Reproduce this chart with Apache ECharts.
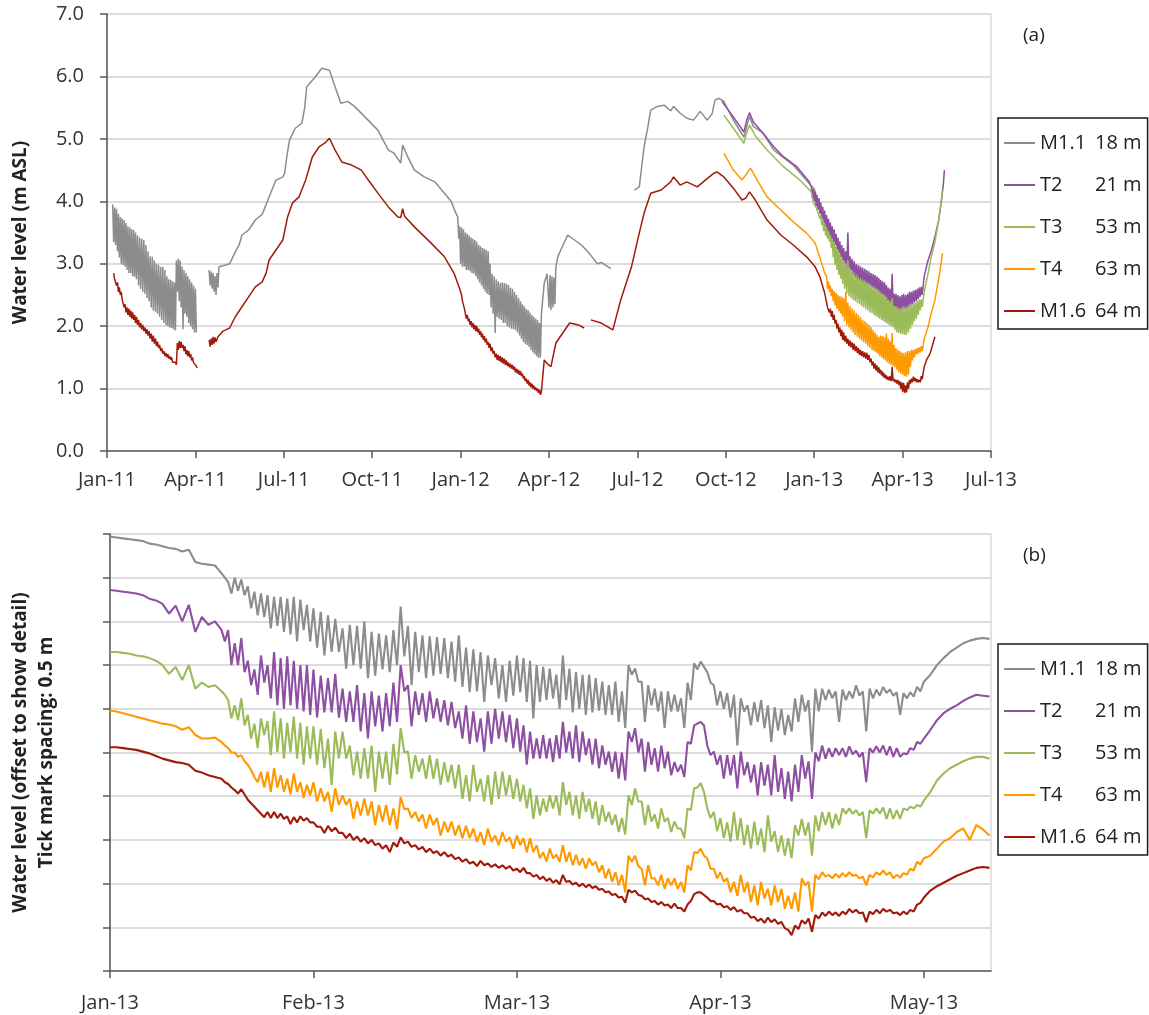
<!DOCTYPE html>
<html>
<head>
<meta charset="utf-8">
<script src="https://cdn.jsdelivr.net/npm/echarts@6/dist/echarts.min.js"></script>
<style>html,body{margin:0;padding:0;background:#fff}#c{width:1149px;height:1015px}</style>
</head>
<body>
<div id="c"></div>
<script>
// ---------------- data ----------------
const NAMES = ['M1.1', 'T2', 'T3', 'T4', 'M1.6'];
const DEPTHS = ['18 m', '21 m', '53 m', '63 m', '64 m'];
const TOP_TICKS = ['Jan-11','Apr-11','Jul-11','Oct-11','Jan-12','Apr-12','Jul-12','Oct-12','Jan-13','Apr-13','Jul-13'];
const BOTTOM_TICKS = ['Jan-13','Feb-13','Mar-13','Apr-13','May-13'];
const TOP_BASE_YEAR = 2011;     // day offsets of panel (a) count from 1 Jan 2011
const BOTTOM_BASE_YEAR = 2013;  // day offsets of panel (b) count from 1 Jan 2013
// element forms: [day, value] | null (gap) | [startDay, stepDays, [values...]]

// ---- panel (a): water level, m ASL ----
const M11_TOP = [
  [6, 1, [3.95,3.35,3.9,3.3,3.88,3.2,3.8,3.1,3.75,3.0,3.72,2.98,3.7,2.95,3.65,2.9,3.6,2.85,3.58,2.85,3.55,2.8,3.54,2.79,3.5,2.75,3.45,2.65,3.42,2.6,3.4,2.55,3.38,2.52,3.3,2.45,3.2,2.4,3.12,2.3,3.11,2.25,3.05,2.23,3.0,2.2,2.98,2.15,2.95,2.1,2.95,2.05,2.9,2.02,2.8,2.0,2.75,1.98,2.74,1.97,2.72,1.95,2.7,1.93]],
  [70, 1, [3.05,2.55,3.08,2.4,3.05,2.3,2.95,1.95,2.9,2.2,2.85,2.15,2.8,2.05,2.75,2.0,2.7,1.95,2.65,1.9,2.6,1.9]],
  null,
  [104, 1, [2.9,2.65,2.88,2.6,2.85,2.55,2.8,2.5,2.85,2.62]],
  [114,2.95],[121,2.98],[125,3.0],[131,3.19],[135,3.3],[138,3.46],[145,3.54],[152,3.7],[159,3.79],[166,4.07],[173,4.34],[180,4.39],[182,4.45],[184,4.7],[187,4.98],[193,5.17],[200,5.25],[203,5.5],[205,5.83],[214,5.99],[221,6.13],[229,6.1],[235,5.83],[241,5.57],[248,5.6],[255,5.52],[265,5.36],[279,5.14],[290,4.82],[296,4.77],[303,4.61],[305,4.9],[310,4.72],[317,4.5],[327,4.39],[338,4.31],[348,4.13],[355,4.0],[360,3.81],
  [362, 1, [3.75,3.4,3.6,3.0,3.58,2.95,3.55,2.95,3.5,2.9,3.48,2.9,3.45,2.88,3.42,2.85,3.4,2.84,3.38,2.8,3.35,2.75,3.3,2.7,3.28,2.65,3.25,2.6,3.24,2.55,3.22,2.52,3.2,2.5,3.0,2.3,2.84,2.2,2.8,1.89,2.75,2.15,2.72,2.12,2.69,2.1,2.7,2.05,2.69,2.05,2.68,2.0,2.66,1.98,2.62,1.96,2.6,1.95,2.55,1.94,2.5,1.9,2.45,1.85,2.4,1.8,2.35,1.75,2.32,1.72,2.28,1.7,2.26,1.67,2.22,1.62,2.18,1.58,2.15,1.55,2.12,1.52,2.1,1.49,2.05,1.5]],
  [448,2.2],[451,2.69],[454,2.84],
  [455, 1, [2.84,2.3,2.82,2.26,2.8,2.3,2.78,2.35]],
  [463,2.95],[465,3.11],[468,3.22],[475,3.46],[482,3.38],[489,3.3],[496,3.19],[506,3.0],[510,3.02],[520,2.92],
  null,
  [544,4.18],[549,4.23],[554,4.87],[558,5.19],[561,5.46],[568,5.52],[575,5.54],[582,5.45],[585,5.52],[592,5.41],[599,5.33],[606,5.3],[613,5.44],[620,5.3],[625,5.4],[628,5.62],[632,5.65],[637,5.6],[647,5.3],[658,5.03],[664,5.36],[668,5.2],[678,5.09],[689,4.82],[709,4.58],[727,4.26],
  [731,4.2],[740,3.75],[750,3.35],[760,3.0],[775,2.75],[790,2.55],[805,2.4],[820,2.2],[835,2.3],[840,2.4]
];
const T2_TOP = [
  [635,5.6],[647,5.35],[658,5.11],[661,5.3],[664,5.42],[668,5.27],[678,5.09],[689,4.87],[699,4.71],[713,4.55],[726,4.31],
  [728, 1, [4.23,4.05,4.2,4.0,4.15,3.92,4.1,3.86,4.05,3.8,3.98,3.73,3.91,3.66,3.85,3.6,3.78,3.53,3.72,3.47,3.66,3.41,3.6,3.35,3.55,3.3,3.48,3.23,3.42,3.17,3.36,3.11,3.3,3.05,3.25,3.0,3.2,2.95,3.5,2.92,3.12,2.88,3.08,2.84,3.04,2.8,3.0,2.76,2.98,2.74,2.96,2.72,2.94,2.7,2.92,2.68,2.9,2.66,2.88,2.64,2.85,2.61,2.84,2.6,2.82,2.58,2.8,2.56,2.77,2.53,2.74,2.5,2.72,2.48,2.7,2.46,2.66,2.42,2.62,2.38,2.6,2.36,2.84,2.32,2.52,2.3,2.52,2.28,2.5,2.26,2.48,2.25,2.5,2.26,2.52,2.28,2.5,2.27,2.52,2.3,2.55,2.33,2.55,2.35,2.57,2.38,2.58,2.4,2.6,2.43,2.62,2.47,2.63,2.5]],
  [843,2.8],[847,3.06],[850,3.2],[854,3.43],[858,3.7],[861,4.02],[863,4.3],[864,4.5]
];
const T3_TOP = [
  [637,5.38],[647,5.17],[658,4.93],[661,5.1],[664,5.22],[670,5.05],[682,4.82],[699,4.55],[716,4.34],[728,4.15],
  [730, 1, [4.0,3.95,3.95,3.9,3.9,3.82,3.85,3.72,3.78,3.62,3.71,3.52,3.65,3.45,3.58,3.4,3.52,3.35,3.46,3.25,3.4,3.1,3.35,2.98,3.28,2.9,3.22,2.82,3.16,2.76,3.1,2.68,3.05,2.6,3.0,2.52,3.05,2.48,2.92,2.45,2.88,2.42,2.84,2.4,2.8,2.37,2.78,2.35,2.76,2.32,2.74,2.3,2.72,2.27,2.7,2.25,2.68,2.22,2.65,2.21,2.64,2.18,2.62,2.16,2.6,2.14,2.57,2.12,2.54,2.1,2.52,2.08,2.5,2.06,2.46,2.04,2.42,2.02,2.4,2.0,2.45,1.98,2.32,1.94,2.32,1.9,2.3,1.89,2.28,1.88,2.3,1.87,2.32,1.86,2.3,1.86,2.32,1.9,2.35,1.96,2.35,2.02,2.37,2.08,2.38,2.12,2.4,2.18,2.42,2.25,2.43,2.31]],
  [843,2.55],[847,2.85],[850,3.1],[854,3.35],[858,3.7],[862,4.18]
];
const T4_TOP = [
  [637,4.77],[647,4.5],[656,4.34],[660,4.42],[665,4.53],[673,4.31],[682,4.07],[696,3.86],[709,3.67],[723,3.49],[732,3.33],[739,3.0],[742,2.85],
  [744, 1, [2.8,2.6,2.72,2.55,2.65,2.48,2.6,2.4,2.56,2.33,2.53,2.28,2.5,2.24,2.48,2.2,2.47,2.15,2.45,2.08,2.55,2.02,2.38,1.98,2.32,1.94,2.28,1.9,2.25,1.86,2.21,1.83,2.18,1.8,2.14,1.77,2.1,1.74,2.08,1.72,2.05,1.68,2.02,1.65,1.98,1.62,1.94,1.6,1.9,1.58,1.86,1.56,1.83,1.52,1.85,1.5,1.84,1.47,1.82,1.45,1.88,1.42,1.8,1.4,1.76,1.38,1.89,1.36,1.7,1.34,1.65,1.3,1.62,1.26,1.6,1.24,1.58,1.22,1.57,1.2,1.58,1.19,1.6,1.22,1.6,1.35,1.62,1.45,1.62,1.5,1.63,1.55,1.65,1.56,1.66,1.58,1.68,1.6]],
  [843,1.8],[847,1.99],[850,2.2],[854,2.42],[859,2.85],[862,3.17]
];
const M16_TOP = [
  [7, 1, [2.85,2.75,2.75,2.65,2.7,2.55,2.62,2.5,2.55,2.42,2.45,2.3,2.35,2.22,2.3,2.18,2.28,2.15,2.25,2.12,2.22,2.1,2.18,2.05,2.15,2.02,2.1,1.98,2.05,1.95,2.02,1.92,1.98,1.88,1.95,1.85,1.92,1.8,1.88,1.75,1.85,1.72,1.8,1.68,1.75,1.65,1.7,1.6,1.65,1.56,1.6,1.52,1.57,1.5,1.55,1.48,1.52,1.46,1.5,1.42,1.45,1.4,1.42,1.38]],
  [71, 1, [1.73,1.62,1.76,1.65,1.75,1.65,1.7,1.6,1.68,1.55,1.62,1.52,1.6,1.5,1.55,1.45,1.5,1.42,1.45,1.38,1.4,1.33]],
  null,
  [104, 1, [1.78,1.67,1.8,1.7,1.83,1.72,1.82,1.75]],
  [113,1.83],[118,1.92],[121,1.94],[125,1.97],[131,2.15],[138,2.31],[145,2.47],[152,2.63],[159,2.71],[163,2.85],[166,3.06],[173,3.22],[180,3.38],[185,3.75],[190,3.97],[197,4.07],[204,4.34],[211,4.71],[218,4.87],[224,4.93],[229,5.01],[235,4.82],[242,4.63],[252,4.58],[262,4.5],[269,4.34],[279,4.13],[290,3.91],[300,3.75],[303,3.74],[305,3.88],[307,3.76],[317,3.59],[334,3.33],[348,3.11],[358,2.85],[364,2.6],
  [366, 1, [2.5,2.4,2.4,2.28,2.25,2.12,2.18,2.08,2.12,2.02,2.08,1.98,2.05,1.95,2.02,1.92,2.0,1.9,1.96,1.86,1.92,1.82,1.88,1.78,1.84,1.74,1.8,1.7,1.75,1.65,1.72,1.6,1.66,1.56,1.6,1.5,1.56,1.46,1.54,1.44,1.52,1.42,1.5,1.4,1.48,1.38,1.45,1.36,1.42,1.34,1.4,1.32,1.38,1.3,1.35,1.26,1.32,1.24,1.3,1.22,1.28,1.2,1.24,1.16,1.2,1.12,1.16,1.08,1.14,1.05,1.1,1.02,1.08,1.0,1.05,0.98,1.02,0.96,1.0,0.93,0.98,0.9]],
  [448,0.95],[451,1.46],[454,1.4],[458,1.35],[463,1.73],[470,1.89],[477,2.05],[486,2.02],[492,1.97],
  null,
  [499,2.1],[510,2.05],[522,1.94],[530,2.42],[541,2.95],[548,3.43],[554,3.81],[561,4.13],[572,4.18],[582,4.31],[585,4.39],[592,4.26],[599,4.31],[610,4.23],[616,4.31],[627,4.45],[630,4.47],[637,4.39],[647,4.21],[656,4.02],[660,4.05],[664,4.15],[670,4.02],[682,3.7],[696,3.46],[709,3.3],[723,3.11],[732,2.95],[737,2.79],[742,2.53],
  [744, 1, [2.38,2.3,2.33,2.22,2.28,2.15,2.24,2.1,2.18,2.04,2.1,1.96,2.04,1.9,1.98,1.84,1.94,1.78,1.9,1.75,1.85,1.72,1.8,1.68,1.77,1.66,1.74,1.62,1.72,1.6,1.68,1.57,1.65,1.54,1.62,1.52,1.6,1.5,1.58,1.48,1.57,1.46,1.54,1.42,1.48,1.37,1.43,1.32,1.4,1.29,1.37,1.26,1.34,1.24,1.3,1.21,1.27,1.18,1.24,1.16,1.21,1.14,1.19,1.13,1.2,1.12,1.35,1.12,1.16,1.1,1.14,1.08,1.14,1.06,1.12,1.0,1.1,0.95,1.09,0.93,1.05,0.94,1.1,1.0,1.14,1.08,1.16,1.1,1.19,1.12,1.17,1.1,1.15,1.1,1.14,1.1,1.2,1.15]],
  [843,1.35],[846,1.48],[849,1.56],[854,1.83]
];

// ---- panel (b): offset water levels, 0.5 m per tick ----
const M11_BOT = [
  [0, 1, [4.97,4.96,4.95,4.94,4.93,4.92,4.89,4.88,4.86,4.84,4.83,4.8,4.82,4.68,4.66,4.65,4.64]],
  [17, 0.5, [
    4.55,4.5, 4.45,4.32, 4.5,4.35, 4.48,4.3, 4.4,4.15,
    4.34,4.07, 4.32,4.05, 4.3,3.92, 4.28,3.95, 4.28,3.88,
    4.26,3.85, 4.28,3.77, 4.25,3.9, 4.19,3.77, 4.15,3.7,
    4.11,3.61, 4.07,3.65, 4.03,3.65, 3.92,3.46, 3.96,3.5,
    3.95,3.46, 4.0,3.35, 3.88,3.38, 3.86,3.45, 3.84,3.42,
    3.9,3.5, 4.17,3.6, 3.95,3.27, 3.88,3.42, 3.84,3.35,
    3.83,3.38, 3.82,3.4, 3.81,3.35, 3.77,3.31, 3.84,3.25,
    3.7,3.19, 3.68,3.2, 3.65,3.08, 3.61,3.27, 3.58,3.12,
    3.5,3.08, 3.55,3.15, 3.61,3.19, 3.58,3.08, 3.55,2.89,
    3.5,3.08, 3.48,3.1, 3.46,3.12, 3.39,3.0, 3.61,3.1,
    3.46,2.96, 3.42,3.0, 3.39,2.93, 3.39,2.96, 3.35,2.98,
    3.31,2.93, 3.27,2.93, 3.31,2.85, 3.2,2.78, 3.5,3.39,
    3.46,3.31, 3.31,2.85, 3.27,3.04, 3.23,2.97, 3.2,2.78,
    3.2,2.97, 3.16,2.97, 3.12,2.78, 3.3,3.1, 3.52,3.45,
    3.54,3.48, 3.42,3.3, 3.27,3.04, 3.2,3.0, 3.18,2.9,
    3.16,2.58, 3.12,2.97, 3.04,2.81, 3.08,2.85, 3.1,2.78,
    3.04,2.62, 3.02,2.75, 3.0,2.7, 2.93,2.74, 3.12,2.85,
    3.16,2.97, 3.1,2.51, 3.23,2.97, 3.23,3.1, 3.22,3.12,
    3.2,2.85, 3.22,3.1, 3.2,3.12, 3.27,3.15, 3.2,2.74,
    3.23,3.12, 3.22,3.15, 3.25,3.18, 3.22,3.15, 3.19,2.93,
    3.18,3.12, 3.19,3.14, 3.25,3.2]],
  [120, 1, [3.31,3.39,3.5,3.58,3.65,3.7,3.75,3.78,3.8,3.81,3.8]]
];
const T2_BOT = [
  [0, 1, [4.36,4.35,4.34,4.33,4.32,4.3,4.26,4.24,4.2,4.09,4.18,4.0,4.19,3.88,4.05,3.96,4.0]],
  [17, 0.5, [
    3.9,3.77, 3.9,3.5, 3.75,3.5, 3.81,3.42, 3.55,3.27,
    3.45,3.16, 3.61,3.3, 3.5,3.12, 3.65,3.04, 3.58,3.0,
    3.6,3.04, 3.55,3.0, 3.5,2.97, 3.5,2.93, 3.45,2.9,
    3.38,2.96, 3.35,2.96, 3.4,2.9, 3.23,2.85, 3.2,2.85,
    3.27,2.74, 3.18,2.66, 3.2,2.8, 3.15,2.74, 3.18,2.8,
    3.3,2.85, 3.5,3.2, 3.27,2.8, 3.2,2.93, 3.18,2.85,
    3.2,2.89, 3.12,2.85, 3.1,2.81, 3.08,2.78, 2.97,2.66,
    3.04,2.6, 2.97,2.62, 2.89,2.51, 2.97,2.6, 3.0,2.66,
    2.97,2.62, 2.93,2.55, 2.89,2.51, 2.81,2.36, 2.74,2.43,
    2.66,2.43, 2.7,2.43, 2.66,2.39, 2.7,2.43, 2.85,2.5,
    2.74,2.43, 2.81,2.39, 2.74,2.47, 2.66,2.36, 2.66,2.32,
    2.58,2.36, 2.51,2.28, 2.51,2.2, 2.5,2.18, 2.74,2.62,
    2.78,2.5, 2.66,2.28, 2.62,2.36, 2.55,2.28, 2.58,2.32,
    2.51,2.24, 2.39,2.28, 2.36,2.22, 2.62,2.6, 2.81,2.83,
    2.85,2.81, 2.58,2.47, 2.51,2.36, 2.47,2.2, 2.47,2.24,
    2.47,2.09, 2.51,2.24, 2.39,2.16, 2.36,2.01, 2.39,2.12,
    2.36,2.01, 2.47,2.05, 2.32,1.97, 2.28,1.94, 2.36,2.05,
    2.47,2.2, 2.4,1.97, 2.5,2.4, 2.58,2.43, 2.55,2.45,
    2.55,2.47, 2.55,2.45, 2.57,2.48, 2.52,2.45, 2.5,2.16,
    2.55,2.5, 2.57,2.5, 2.58,2.47, 2.57,2.45, 2.55,2.45,
    2.49,2.48, 2.55,2.53, 2.62,2.6]],
  [120, 1, [2.66,2.76,2.87,2.95,3.0,3.04,3.09,3.13,3.16,3.15,3.14]]
];
const T3_BOT = [
  [0, 1, [3.65,3.65,3.64,3.63,3.61,3.6,3.58,3.55,3.5,3.4,3.48,3.33,3.5,3.23,3.3,3.25,3.27]],
  [17, 0.5, [
    3.2,3.16, 3.1,2.89, 3.04,2.87, 3.12,2.81, 2.93,2.66,
    2.83,2.55, 2.89,2.7, 2.86,2.47, 2.97,2.5, 2.89,2.43,
    2.84,2.5, 2.91,2.43, 2.84,2.36, 2.8,2.43, 2.8,2.36,
    2.77,2.32, 2.66,2.13, 2.74,2.43, 2.74,2.43, 2.58,2.24,
    2.51,2.2, 2.55,2.2, 2.58,2.05, 2.51,2.2, 2.51,2.13,
    2.6,2.25, 2.78,2.5, 2.51,2.2, 2.47,2.28, 2.43,2.2,
    2.47,2.2, 2.43,2.13, 2.39,2.16, 2.36,2.09, 2.36,1.97,
    2.24,1.94, 2.36,2.05, 2.2,1.94, 2.24,1.9, 2.28,1.97,
    2.28,2.01, 2.24,1.97, 2.2,1.94, 2.13,1.86, 2.09,1.74,
    2.01,1.78, 1.97,1.82, 2.01,1.86, 2.01,1.78, 2.16,1.9,
    2.05,1.78, 2.01,1.74, 2.05,1.82, 1.97,1.74, 1.94,1.67,
    1.9,1.71, 1.82,1.67, 1.79,1.59, 1.75,1.56, 2.01,1.9,
    2.09,1.94, 1.94,1.67, 1.9,1.71, 1.79,1.63, 1.86,1.71,
    1.75,1.59, 1.71,1.63, 1.63,1.52, 1.86,1.84, 2.09,2.1,
    2.15,2.05, 1.86,1.75, 1.82,1.6, 1.75,1.52, 1.7,1.48,
    1.82,1.5, 1.75,1.44, 1.67,1.4, 1.71,1.44, 1.63,1.36,
    1.78,1.48, 1.6,1.36, 1.55,1.32, 1.52,1.29, 1.67,1.55,
    1.74,1.55, 1.7,1.32, 1.78,1.6, 1.82,1.67, 1.82,1.63,
    1.8,1.67, 1.86,1.8, 1.86,1.8, 1.84,1.78, 1.82,1.52,
    1.84,1.8, 1.86,1.8, 1.87,1.74, 1.86,1.74, 1.84,1.74,
    1.86,1.84, 1.88,1.86, 1.9,1.88]],
  [120, 1, [1.95,2.05,2.18,2.26,2.32,2.36,2.4,2.43,2.45,2.45,2.43]]
];
const T4_BOT = [
  [0, 1, [2.98,2.97,2.95,2.93,2.91,2.89,2.87,2.85,2.83,2.82,2.8,2.76,2.79,2.7,2.66,2.66,2.67]],
  [17, 0.5, [
    2.62,2.58, 2.55,2.5, 2.5,2.45, 2.47,2.4, 2.36,2.3,
    2.22,2.16, 2.28,2.1, 2.28,2.05, 2.32,2.1, 2.24,2.05,
    2.2,2.02, 2.26,2.05, 2.16,1.98, 2.13,2.01, 2.16,1.94,
    2.09,1.94, 2.05,1.82, 2.09,1.9, 2.01,1.9, 1.97,1.74,
    1.94,1.78, 1.97,1.78, 1.94,1.67, 1.9,1.71, 1.9,1.67,
    1.86,1.62, 1.99,1.85, 1.86,1.75, 1.82,1.71, 1.79,1.63,
    1.79,1.67, 1.75,1.55, 1.71,1.59, 1.71,1.55, 1.67,1.52,
    1.66,1.52, 1.63,1.48, 1.59,1.44, 1.63,1.48, 1.55,1.44,
    1.59,1.48, 1.53,1.4, 1.55,1.44, 1.52,1.36, 1.52,1.36,
    1.44,1.29, 1.36,1.25, 1.4,1.29, 1.33,1.25, 1.44,1.25,
    1.36,1.21, 1.33,1.21, 1.29,1.17, 1.29,1.21, 1.25,1.13,
    1.21,1.06, 1.17,1.02, 1.13,0.98, 1.1,0.9, 1.32,1.25,
    1.32,1.2, 1.17,0.98, 1.21,1.06, 1.06,0.98, 1.1,0.94,
    1.06,0.98, 1.06,0.94, 1.02,0.9, 1.21,1.15, 1.36,1.35,
    1.4,1.32, 1.29,1.17, 1.17,1.06, 1.13,1.02, 1.06,0.9,
    1.02,0.86, 1.1,0.9, 1.02,0.79, 0.98,0.75, 1.02,0.83,
    0.94,0.75, 0.98,0.79, 0.94,0.71, 0.86,0.71, 0.9,0.68,
    1.06,0.98, 1.02,0.68, 1.1,1.05, 1.13,1.08, 1.1,1.06,
    1.11,1.07, 1.12,1.08, 1.13,1.09, 1.1,1.06, 1.08,0.98,
    1.1,1.07, 1.13,1.1, 1.15,1.1, 1.13,1.06, 1.1,1.07,
    1.12,1.1, 1.17,1.15, 1.25,1.22]],
  [120, 1, [1.29,1.32,1.4,1.48,1.52,1.59,1.63,1.5,1.67,1.62,1.55]]
];
const M16_BOT = [
  [0, 1, [2.56,2.56,2.55,2.54,2.53,2.51,2.49,2.46,2.43,2.41,2.39,2.38,2.36,2.29,2.27,2.24,2.22]],
  [17, 0.5, [
    2.2,2.16, 2.14,2.1, 2.07,2.03, 2.08,2.02, 1.96,1.92,
    1.88,1.84, 1.8,1.76, 1.82,1.75, 1.82,1.75, 1.8,1.74,
    1.77,1.68, 1.76,1.7, 1.77,1.72, 1.75,1.7, 1.7,1.65,
    1.65,1.58, 1.66,1.6, 1.64,1.58, 1.58,1.52, 1.57,1.5,
    1.54,1.48, 1.52,1.46, 1.5,1.44, 1.46,1.4, 1.44,1.36,
    1.47,1.42, 1.53,1.46, 1.48,1.42, 1.44,1.39, 1.42,1.36,
    1.4,1.35, 1.37,1.32, 1.36,1.31, 1.33,1.28, 1.3,1.25,
    1.28,1.23, 1.25,1.2, 1.26,1.21, 1.23,1.19, 1.22,1.18,
    1.21,1.17, 1.2,1.15, 1.17,1.13, 1.18,1.12, 1.12,1.08,
    1.1,1.05, 1.08,1.03, 1.06,1.01, 1.04,0.99, 1.1,1.02,
    1.03,0.99, 1.01,0.97, 1.0,0.96, 0.99,0.95, 0.97,0.93,
    0.94,0.9, 0.91,0.87, 0.88,0.84, 0.85,0.78, 0.93,0.9,
    0.92,0.87, 0.86,0.82, 0.83,0.79, 0.8,0.76, 0.79,0.75,
    0.76,0.72, 0.77,0.72, 0.72,0.68, 0.76,0.8, 0.88,0.9,
    0.9,0.87, 0.84,0.8, 0.8,0.76, 0.77,0.73, 0.74,0.7,
    0.73,0.68, 0.7,0.66, 0.66,0.61, 0.62,0.57, 0.6,0.55,
    0.61,0.56, 0.59,0.54, 0.56,0.49, 0.47,0.41, 0.52,0.48,
    0.58,0.54, 0.6,0.45, 0.64,0.6, 0.67,0.63, 0.68,0.64,
    0.67,0.63, 0.68,0.65, 0.71,0.67, 0.7,0.66, 0.67,0.56,
    0.68,0.65, 0.7,0.66, 0.71,0.68, 0.7,0.66, 0.67,0.64,
    0.68,0.65, 0.7,0.68, 0.76,0.78]],
  [120, 1, [0.84,0.92,0.97,1.01,1.05,1.09,1.12,1.15,1.18,1.19,1.18]]
];

// ---------------- helpers ----------------
const COLORS = ['#8c8c8c', '#8e4fa2', '#9bbb59', '#ff9900', '#a01a0c'];
const FONT = "'Open Sans', 'DejaVu Sans', sans-serif";

// day offset -> fractional month index (months drawn equal width, as in the original)
function monthIndex(baseYear, day) {
  const t = Date.UTC(baseYear, 0, 1) + day * 864e5;
  const dt = new Date(t);
  const y = dt.getUTCFullYear(), mo = dt.getUTCMonth();
  const dim = new Date(Date.UTC(y, mo + 1, 0)).getUTCDate();
  const start = Date.UTC(y, mo, 1);
  return (y - baseYear) * 12 + mo + (t - start) / (dim * 864e5);
}
function build(arr, baseYear) {
  const out = [];
  for (const el of arr) {
    if (el === null) { out.push([out.length ? out[out.length - 1][0] : 0, '-']); continue; }
    if (Array.isArray(el[2])) {
      const s = el[0], step = el[1];
      el[2].forEach((v, i) => out.push([monthIndex(baseYear, s + i * step), v]));
    } else {
      out.push([monthIndex(baseYear, el[0]), el[1]]);
    }
  }
  return out;
}

const TOP = [M11_TOP, T2_TOP, T3_TOP, T4_TOP, M16_TOP];
const BOT = [M11_BOT, T2_BOT, T3_BOT, T4_BOT, M16_BOT];

const series = [];
NAMES.forEach((n, i) => series.push({
  name: n, type: 'line', xAxisIndex: 0, yAxisIndex: 0, data: build(TOP[i], TOP_BASE_YEAR),
  showSymbol: false, symbol: 'none', connectNulls: false, silent: true,
  lineStyle: { color: COLORS[i], width: 1.5 }, itemStyle: { color: COLORS[i] }
}));
NAMES.forEach((n, i) => series.push({
  name: n, type: 'line', xAxisIndex: 1, yAxisIndex: 1, data: build(BOT[i], BOTTOM_BASE_YEAR),
  showSymbol: false, symbol: 'none', connectNulls: false, silent: true,
  lineStyle: { color: COLORS[i], width: 2.1 }, itemStyle: { color: COLORS[i] }
}));

const axisLineStyle = { color: '#595959', width: 1.5 };
const labelStyle = { fontFamily: FONT, fontSize: 20, color: '#333' };
const gridLine = { show: true, lineStyle: { color: '#dcdcdc', width: 2 } };
const titleStyle = { fontFamily: FONT, fontWeight: 'bold', fontSize: 19, color: '#222', lineHeight: 26 };

function legendCfg(top) {
  const txt = { fontFamily: FONT, fontSize: 20, color: '#222', lineHeight: 22 };
  return {
    orient: 'vertical', left: 998, top: top,
    padding: [14, 6, 7, 6], itemGap: 20, itemWidth: 31, itemHeight: 2, icon: 'rect',
    borderColor: '#1a1a1a', borderWidth: 1.5, selectedMode: false,
    data: NAMES,
    formatter: name => '{n|' + name + '}{d|' + DEPTHS[NAMES.indexOf(name)] + '}',
    textStyle: Object.assign({}, txt, { rich: { n: Object.assign({ width: 55 }, txt), d: Object.assign({}, txt) } })
  };
}

const option = {
  animation: false,
  backgroundColor: '#fff',
  grid: [
    { left: 106, top: 14, width: 885, height: 437, show: true, borderColor: '#d9d9d9', borderWidth: 1.5 },
    { left: 106, top: 534, width: 885, height: 437, show: true, borderColor: '#d9d9d9', borderWidth: 1.5 }
  ],
  xAxis: [
    { gridIndex: 0, type: 'value', min: 0, max: 30, interval: 3,
      axisLine: { lineStyle: axisLineStyle }, axisTick: { show: true, length: 7, lineStyle: axisLineStyle },
      axisLabel: Object.assign({ margin: 19, formatter: v => TOP_TICKS[Math.round(v / 3)] || '' }, labelStyle),
      splitLine: { show: false } },
    { gridIndex: 1, type: 'value', min: 0, max: 4.33, interval: 1,
      axisLine: { lineStyle: axisLineStyle }, axisTick: { show: true, length: 7, lineStyle: axisLineStyle },
      axisLabel: Object.assign({ margin: 22, showMaxLabel: false,
        formatter: v => (Math.abs(v - Math.round(v)) < 1e-6 ? (BOTTOM_TICKS[Math.round(v)] || '') : '') }, labelStyle),
      splitLine: { show: false } }
  ],
  yAxis: [
    { gridIndex: 0, type: 'value', min: 0, max: 7, interval: 1,
      axisLine: { show: true, lineStyle: axisLineStyle }, axisTick: { show: true, length: 7, lineStyle: axisLineStyle },
      axisLabel: Object.assign({ margin: 23, formatter: v => v.toFixed(1) }, labelStyle),
      splitLine: gridLine,
      name: 'Water level (m ASL)', nameLocation: 'middle', nameRotate: 90, nameGap: 73, nameTextStyle: titleStyle },
    { gridIndex: 1, type: 'value', min: 0, max: 5, interval: 0.5,
      axisLine: { show: true, lineStyle: axisLineStyle }, axisTick: { show: true, length: 7, lineStyle: axisLineStyle },
      axisLabel: { show: false },
      splitLine: gridLine,
      name: 'Water level (offset to show detail)\nTick mark spacing: 0.5 m', nameLocation: 'middle', nameRotate: 90, nameGap: 50, nameTextStyle: titleStyle }
  ],
  legend: [legendCfg(118), legendCfg(644)],
  graphic: [
    { type: 'text', left: 1023, top: 26, style: { text: '(a)', font: '19px ' + FONT, fill: '#222' } },
    { type: 'text', left: 1023, top: 546, style: { text: '(b)', font: '19px ' + FONT, fill: '#222' } }
  ],
  series: series
};

const chart = echarts.init(document.getElementById('c'), null, { renderer: 'canvas' });
chart.setOption(option);
</script>
</body>
</html>
